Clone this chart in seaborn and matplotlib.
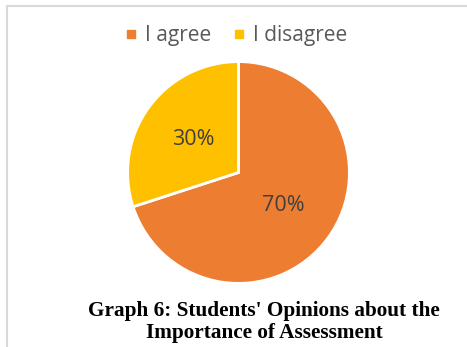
import matplotlib
matplotlib.use("Agg")
import matplotlib.pyplot as plt
import seaborn as sns
from matplotlib.lines import Line2D

# data
labels = ["I agree", "I disagree"]
shares = [70, 30]
colors = ["#ED7D31", "#FFC000"]
caption = "Graph 6: Students' Opinions about the\nImportance of Assessment"

sns.set_theme(style="white")
plt.rcParams['font.family'] = ['Open Sans', 'DejaVu Sans']

W, H = 467, 347
fig = plt.figure(figsize=(W / 100, H / 100), dpi=100)
fig.patch.set_facecolor("white")

# pie placed by pixel: centre (238.5, 172.5), radius 112
cx, cy, r = 238.5, 172.5, 112
ax = fig.add_axes([(cx - r) / W, (H - cy - r) / H, 2 * r / W, 2 * r / H])
wedges, texts, autotexts = ax.pie(
    shares, colors=colors, startangle=90, counterclock=False,
    autopct="%d%%", pctdistance=0.5,
    wedgeprops=dict(edgecolor="white", linewidth=2),
    textprops=dict(color="#404040", fontsize=15.5),
)
ax.set_xlim(-1.01, 1.01)
ax.set_ylim(-1.01, 1.01)
ax.set_aspect("equal")
ax.axis("off")

# legend on top
handles = [Line2D([], [], marker="s", linestyle="none", markersize=5.5,
                  markerfacecolor=c, markeredgecolor=c) for c in colors]
fig.legend(handles, labels, loc="center", ncol=2,
           bbox_to_anchor=(235 / W, 1 - 36 / H), frameon=False,
           fontsize=15, labelcolor="#595959", handletextpad=0.3,
           columnspacing=0.9, handlelength=0.8)

# caption under the pie
fig.text(264 / W, 1 - 322 / H, caption, ha="center", va="center",
         family="Liberation Serif", fontweight="bold", fontsize=15.3,
         color="black", linespacing=1.15)

# light frame (top and left edges visible)
fig.add_artist(Line2D([7 / W, 1], [1 - 6 / H, 1 - 6 / H],
                      transform=fig.transFigure, color="#D9D9D9", lw=1.5))
fig.add_artist(Line2D([7 / W, 7 / W], [0, 1 - 6 / H],
                      transform=fig.transFigure, color="#D9D9D9", lw=1.5))

fig.savefig("out.png", dpi=100, facecolor="white")
